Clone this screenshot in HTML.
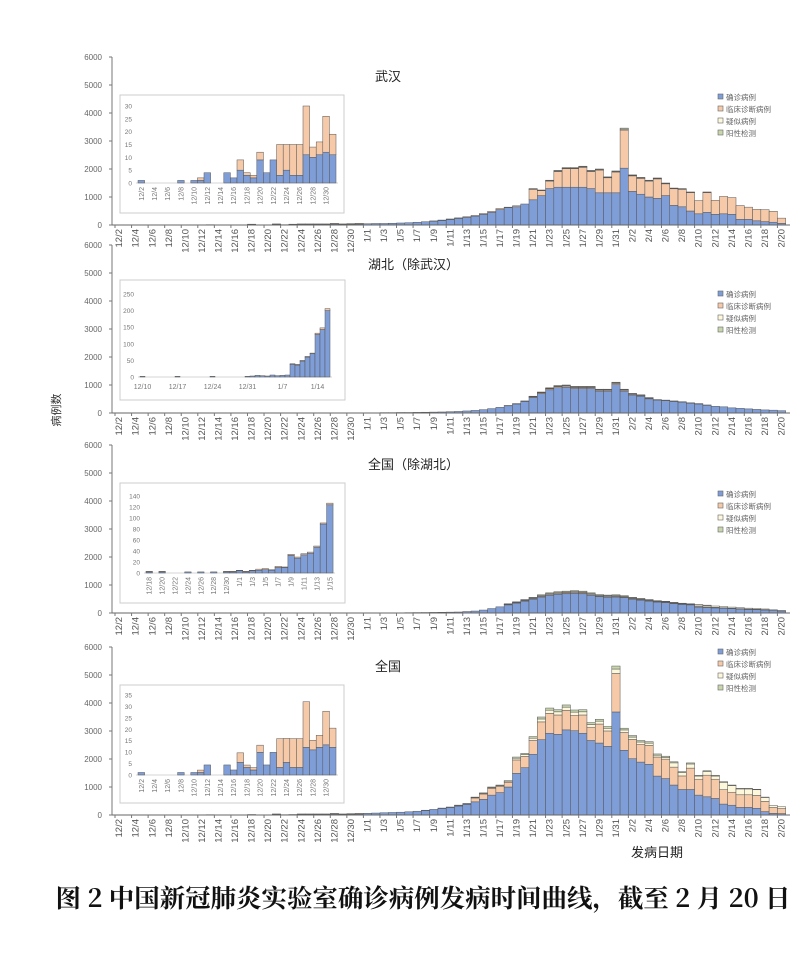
<!DOCTYPE html>
<html><head><meta charset="utf-8">
<style>
body{margin:0;background:#fff;}
svg{display:block;font-family:"Liberation Sans","Noto Sans CJK SC",sans-serif;}
</style></head><body>
<svg id="s" width="807" height="956" viewBox="0 0 807 956" xmlns="http://www.w3.org/2000/svg">
<text x="60" y="410" font-size="11" fill="#333" transform="rotate(-90 60 410)" text-anchor="middle">病例数</text>
<text x="657" y="857" font-size="13" fill="#222" text-anchor="middle">发病日期</text>
<text x="423" y="907" font-size="25" font-weight="bold" fill="#111" text-anchor="middle" textLength="735" lengthAdjust="spacingAndGlyphs" font-family="'Noto Serif CJK SC','Noto Sans CJK SC',serif">图 2 中国新冠肺炎实验室确诊病例发病时间曲线，截至 2 月 20 日</text>
</svg>
<script>
var S=document.getElementById('s'),NS='http://www.w3.org/2000/svg';
function el(t,a,txt){var e=document.createElementNS(NS,t);for(var k in a)e.setAttribute(k,a[k]);if(txt!=null)e.textContent=txt;S.appendChild(e);return e;}
var C=['#7f9ed8','#f6caa8','#fdf7dc','#c8d6ae'];
var labels=[];
for(var i=0;i<81;i++){var d;if(i<30)d='12/'+(i+2);else if(i<61)d='1/'+(i-29);else d='2/'+(i-60);labels.push(d);}
function mk(early,T,B,yf,gf){
  var out=[];
  for(var i=0;i<81;i++){var t=T[i]||0,b=B[i]!=null?B[i]:t*0.9;var y=t*yf(i),g=t*gf(i);var o=Math.max(0,t-b-y-g);out.push([b,o,y,g]);}
  return out;}
function pad(arr,start){var a=[];for(var i=0;i<81;i++)a.push(0);for(var j=0;j<arr.length;j++)a[start+j]=arr[j];return a;}
var DEC=[5,0,0,0,0,0,5,0,5,10,20,0,0,15,10,30,15,10,40,20,30,40,40,40,40,60,40,50,60];
var wT=pad(DEC.concat([50,60,60,70,80,90,110,130,150,180,220,260,300,350,420,500,600,650,700,750,1300,1250,1600,1950,2050,2050,2100,1950,2000,1720,1930,3460,1790,1700,1600,1680,1500,1320,1300,1180,890,1180,900,1040,1000,710,650,570,560,500,250,100]),1);
var wB=pad(DEC.map(function(v){return v*0.6}).concat([45,54,54,63,72,81,99,117,135,162,198,234,270,315,380,450,550,620,650,750,900,1050,1300,1350,1350,1350,1350,1300,1150,1150,1150,2030,1200,1100,1000,950,1050,700,650,500,400,450,380,400,380,200,200,150,120,100,60,40]),1);
var hT=pad([10,10,15,15,20,20,25,30,35,40,50,60,80,100,130,170,220,280,350,450,600,750,900,980,1000,950,950,950,850,850,1100,850,700,650,550,500,480,450,420,380,350,300,260,240,200,180,160,140,120,110,90],30);
var hB=hT.map(function(v){return v*0.92});
var nT=pad([5,5,8,10,12,15,18,20,25,30,35,40,60,80,120,180,250,330,400,480,560,650,720,760,780,800,780,720,660,640,650,620,560,520,480,440,420,380,350,330,300,280,260,240,220,200,180,170,150,130,100],30);
var nB=nT.map(function(v,i){return v*(i<70?0.88:0.7)});
var aT=pad(DEC.concat([70,80,90,100,110,130,150,180,220,260,300,360,420,640,790,1000,1070,1230,2070,2200,2800,3500,3820,3760,3930,3750,3760,3300,3420,3160,5320,3100,2840,2660,2620,2180,2100,1900,1550,1860,1420,1580,1420,1190,1070,950,950,920,640,350,300]),1);
var aB=pad(DEC.map(function(v){return v*0.6}).concat([60,70,80,90,100,115,135,160,200,235,270,320,380,470,560,710,800,1000,1490,1690,2170,2690,2920,2880,3040,3010,2920,2660,2570,2450,3680,2310,2010,1890,1810,1390,1300,1070,910,910,710,650,590,390,350,270,270,240,120,60,50]),1);
var k=168/6000,x0=115,dw=8.28;
function main(zy,title,tx,data,ly){
  var top=zy-168;
  el('line',{x1:112,y1:top,x2:112,y2:zy,stroke:'#777','stroke-width':1});
  for(var v=0;v<=6000;v+=1000){var y=zy-v*k;el('text',{x:102,y:y+3,'font-size':8,fill:'#666','text-anchor':'end'},v);el('line',{x1:109,y1:y,x2:112,y2:y,stroke:'#777'});}
  for(var i=0;i<81;i++){
    var x=x0+i*dw,y=zy,d=data[i];
    for(var j=0;j<4;j++){var h=d[j]*k;if(h<0.3)continue;y-=h;el('rect',{x:x,y:y,width:dw,height:h,fill:C[j],stroke:'#555','stroke-width':0.5});}
  }
  el('line',{x1:112,y1:zy,x2:790,y2:zy,stroke:'#666','stroke-width':1});
  for(var i=0;i<81;i+=2){var cx=x0+i*dw+dw/2+3;el('line',{x1:x0+i*dw,y1:zy,x2:x0+i*dw,y2:zy+3,stroke:'#777'});
    el('text',{x:cx,y:zy+4,'font-size':9.5,fill:'#555','text-anchor':'end',transform:'rotate(-90 '+cx+' '+(zy+4)+')'},labels[i]);}
  el('text',{x:tx,y:top+24,'font-size':13,fill:'#222'},title);
  var L=['确诊病例','临床诊断病例','疑似病例','阳性检测'];
  for(var j=0;j<4;j++){el('rect',{x:718,y:ly+j*12-6,width:5,height:5,fill:C[j],stroke:'#666','stroke-width':0.6});el('text',{x:726,y:ly+j*12,'font-size':7.5,fill:'#666'},L[j]);}
}
function frame(x,y,w,h){el('rect',{x:x,y:y,width:w,height:h,fill:'#fff',stroke:'#ccc','stroke-width':1});}
function inset(bx,by,bw,bh,zy,pxPer,maxV,step,sx,dwi,vals,labs,rot){
  frame(bx,by,bw,bh);
  for(var v=0;v<=maxV;v+=step){var y=zy-v*pxPer;el('text',{x:sx-6,y:y+2.5,'font-size':6.5,fill:'#777','text-anchor':'end'},v);}
  el('line',{x1:sx-2,y1:zy,x2:sx+vals.length*dwi+2,y2:zy,stroke:'#aaa','stroke-width':0.6});
  for(var i=0;i<vals.length;i++){var y=zy,d=vals[i];for(var j=0;j<d.length;j++){var h=d[j]*pxPer;if(h<=0)continue;y-=h;el('rect',{x:sx+i*dwi,y:y,width:dwi,height:h,fill:C[j],stroke:'#555','stroke-width':0.5});}}
  for(var i=0;i<labs.length;i++){var l=labs[i];var cx=sx+l[0]*dwi+dwi/2;
    if(rot){cx+=2.5;el('text',{x:cx,y:zy+4,'font-size':7,fill:'#777','text-anchor':'end',transform:'rotate(-90 '+cx+' '+(zy+4)+')'},l[1]);}
    else el('text',{x:cx,y:zy+12,'font-size':7,fill:'#777','text-anchor':'middle'},l[1]);}
}
main(225,'武汉',375,mk(0,wT,wB,function(i){return 0.01},function(i){return 0.01}),100);
main(413,'湖北（除武汉）',368,mk(0,hT,hB,function(i){return 0.02},function(i){return 0.02}),297);
main(613,'全国（除湖北）',368,mk(0,nT,nB,function(i){return i<70?0.04:0.18},function(i){return 0.04}),497);
main(815,'全国',375,mk(0,aT,aB,function(i){return i<67?0.03:(i<73?0.08:0.22)},function(i){return 0.02}),655);
var wd=[[1,0],[0,0],[0,0],[0,0],[0,0],[0,0],[1,0],[0,0],[1,0],[1,1],[4,0],[0,0],[0,0],[4,0],[2,0],[5,4],[3,1],[2,1],[9,3],[4,0],[9,0],[3,12],[5,10],[3,12],[3,12],[11,19],[10,4],[11,5],[12,14],[11,8]];
var wl=[];for(var i=0;i<30;i+=2)wl.push([i,'12/'+(i+2)]);
inset(120,95,224,118,183,77/30,30,5,138,6.6,wd,wl,true);
var hd=[];for(var i=0;i<39;i++)hd.push([0,0]);
hd[0]=[2,0];hd[7]=[2,0];hd[14]=[2,0];hd[21]=[2,0];hd[22]=[3,0];hd[23]=[5,0];hd[24]=[4,0];hd[25]=[3,0];hd[26]=[6,0];hd[27]=[4,0];hd[28]=[5,0];hd[29]=[6,0];hd[30]=[38,2];hd[31]=[36,2];hd[32]=[48,2];hd[33]=[60,2];hd[34]=[70,2];hd[35]=[128,4];hd[36]=[143,5];hd[37]=[200,6];hd=hd.slice(0,38);
inset(120,280,225,120,377,83/250,250,50,140,5.0,hd,[[0,'12/10'],[7,'12/17'],[14,'12/24'],[21,'12/31'],[28,'1/7'],[35,'1/14']],false);
var nd=[[2,1],[0,0],[2,1],[0,0],[0,0],[0,0],[2,0],[0,0],[2,0],[0,0],[2,0],[0,0],[2,1],[2,1],[4,1],[2,1],[4,1],[5,2],[6,2],[5,1],[10,2],[10,1],[32,2],[27,2],[33,2],[36,2],[47,2],[89,2],[124,3]];
var nl=[];var nn=['12/18','12/20','12/22','12/24','12/26','12/28','12/30','1/1','1/3','1/5','1/7','1/9','1/11','1/13','1/15'];for(var i=0;i<15;i++)nl.push([i*2,nn[i]]);
inset(120,483,225,120,573,77/140,140,20,146,6.45,nd,nl,true);
var ad=wd.map(function(d,i){return [d[0]*1.1,d[1]*1.05];});
inset(120,685,224,118,775,80/35,35,5,138,6.6,ad,wl,true);
</script>
</body></html>
